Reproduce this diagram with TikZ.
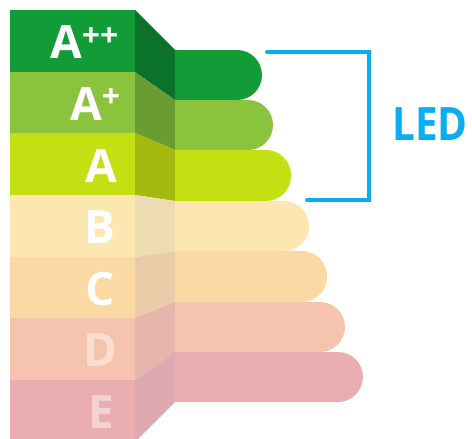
\documentclass[tikz,border=0pt]{standalone}
\usepackage{fontspec}
\setmainfont{Open Sans}
\definecolor{cApp}{HTML}{129C38}\definecolor{sApp}{HTML}{0B7329}
\definecolor{cAp}{HTML}{8AC43F}\definecolor{sAp}{HTML}{6A9C31}
\definecolor{cA}{HTML}{C4DF12}\definecolor{sA}{HTML}{A4B910}
\definecolor{cB}{HTML}{FBE7AF}\definecolor{sB}{HTML}{EDDCB1}
\definecolor{cC}{HTML}{FAD9A5}\definecolor{sC}{HTML}{EACDA8}
\definecolor{cD}{HTML}{F6C3AE}\definecolor{sD}{HTML}{E6B6AC}
\definecolor{cE}{HTML}{EAAEB2}\definecolor{sE}{HTML}{DCAAB0}
\definecolor{ledblue}{HTML}{0AAEEF}
\tikzset{
  lbl/.style={text=white,inner sep=0pt,font=\fontsize{46}{46}\selectfont\bfseries},
  ledlbl/.style={text=ledblue,inner sep=0pt,font=\fontsize{46}{46}\selectfont\bfseries},
  bracket/.style={draw=ledblue,line width=4pt,line cap=round,line join=miter},
}
\newcommand{\plusses}[1]{\raisebox{13pt}{\fontsize{32}{32}\selectfont #1}}
\begin{document}
\begin{tikzpicture}[x=1pt,y=-1pt]
\useasboundingbox (0,0) rectangle (472,439);
\clip (0,0) rectangle (472,439);
\foreach \c/\s/\lt/\lb/\rt/\rb/\e in {
  cApp/sApp/10/72/50/100/262,
  cAp/sAp/72/133/100/150/273,
  cA/sA/133/195/150/201/291,
  cB/sB/195/257/201/251/309,
  cC/sC/257/318/251/302/327,
  cD/sD/318/380/302/352/345,
  cE/sE/380/442/352/402/363}{
  \fill[\c] (10,\lt) rectangle (135,\lb);
  \fill[\s] (135,\lt) -- (175,\rt) -- (175,\rb) -- (135,\lb) -- cycle;
  \fill[\c] (175,\rt) [rounded corners=25pt] -- (\e,\rt) -- (\e,\rb) [sharp corners] -- (175,\rb) -- cycle;
}
% labels
\node[lbl,anchor=base west] (lApp) at (50,59) {A\plusses{++}};
\node[lbl,anchor=base west] (lAp) at (70,120) {A\plusses{+}};
\node[lbl,anchor=base] (lA) at (101,182) {A};
\node[lbl,anchor=base] (lB) at (100,243) {B};
\node[lbl,anchor=base] (lC) at (100,305) {C};
\node[lbl,anchor=base,text opacity=0.45] (lD) at (101,366) {D};
\node[lbl,anchor=base,text opacity=0.45] (lE) at (101,428) {E};
% LED bracket
\coordinate (b1) at (267,52);
\coordinate (b2) at (369,52);
\coordinate (b3) at (369,200);
\coordinate (b4) at (307,200);
\draw[bracket] (b1) -- (b2) -- (b3) -- (b4);
\node[ledlbl,anchor=base west,xscale=0.88] (led) at (392,140) {LED};
\end{tikzpicture}
\end{document}
